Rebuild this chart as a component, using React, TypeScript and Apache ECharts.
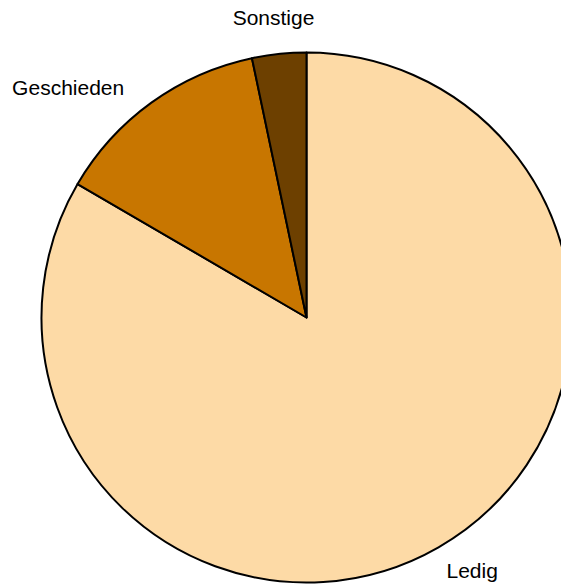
import React, { useEffect, useRef } from "react";
import * as echarts from "echarts";

const categories = ["Ledig", "Geschieden", "Sonstige"];
const values = [83.4, 13.3, 3.3];
const colors = ["#FDDAA6", "#C87600", "#6D4000"];
// label nudges (px) relative to the default outside placement
const labelShiftX = [-10, -7, 43];
const labelShiftY = [1, 6, -11];

export default function App() {
  const ref = useRef<HTMLDivElement>(null);
  useEffect(() => {
    if (!ref.current) return;
    const chart = echarts.init(ref.current, undefined, { renderer: "svg" });
    chart.setOption({
      animation: false,
      backgroundColor: "#ffffff",
      series: [
        {
          type: "pie",
          center: [306.5, 317.5],
          radius: 265,
          startAngle: 90,
          clockwise: true,
          avoidLabelOverlap: false,
          data: categories.map((name, i) => ({
            name,
            value: values[i],
            itemStyle: { color: colors[i] },
          })),
          itemStyle: { borderColor: "#000000", borderWidth: 2 },
          label: {
            show: true,
            position: "outside",
            formatter: "{b}",
            color: "#000000",
            fontSize: 21,
            fontFamily: "Liberation Sans, Arial, sans-serif",
          },
          labelLine: { show: false, length: 26, length2: 0 },
          labelLayout: (params: any) => ({
            dx: labelShiftX[params.dataIndex],
            dy: labelShiftY[params.dataIndex],
          }),
          emphasis: { disabled: true },
        },
      ],
    });
    return () => chart.dispose();
  }, []);
  return (
    <div
      ref={ref}
      style={{ position: "fixed", left: 0, top: 0, width: 561, height: 586 }}
    />
  );
}
